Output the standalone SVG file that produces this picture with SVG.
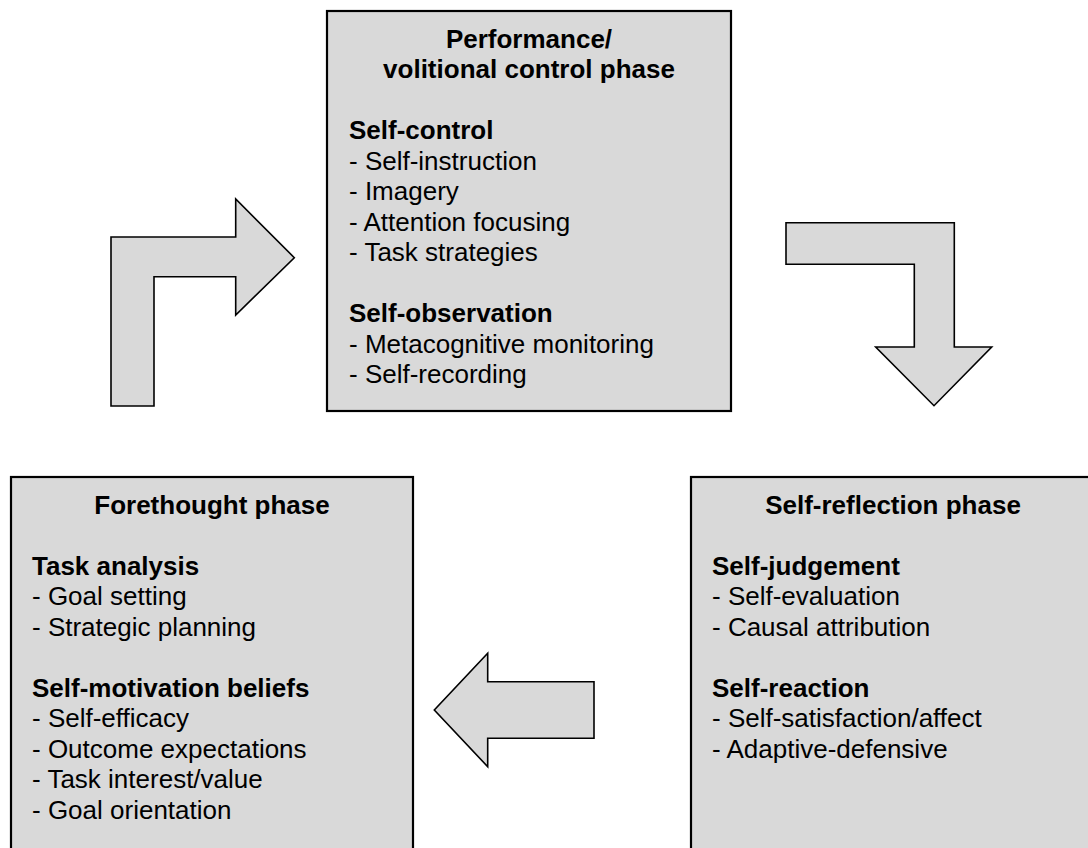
<svg xmlns="http://www.w3.org/2000/svg" width="1088" height="848" viewBox="0 0 1088 848">
<style>
.box{fill:#d9d9d9;stroke:#000;stroke-width:2.2}
.arrow{fill:#d9d9d9;stroke:#000;stroke-width:1.6;stroke-linejoin:miter}
text{font-family:"Liberation Sans",Arial,sans-serif;font-size:26px;fill:#000}
.b{font-weight:bold}
.c{text-anchor:middle}
</style>
<rect width="1088" height="848" fill="#fff"/>
<g id="connectors">
<polygon id="arrow-forethought-to-performance" class="arrow" points="111,406 111,237 235.7,237 235.7,199 294.3,257.7 235.7,315 235.7,276.7 154,276.7 154,406"/>
<polygon id="arrow-performance-to-reflection" class="arrow" points="786,222.7 954.3,222.7 954.3,347 991.7,347 934,405.7 875.7,347 914.3,347 914.3,264.3 786,264.3"/>
<polygon id="arrow-reflection-to-forethought" class="arrow" points="594,681.7 487.7,681.7 487.7,653.3 434.3,710 487.7,766.7 487.7,738.3 594,738.3"/>
</g>
<g id="performance">
<rect class="box" x="327" y="11" width="404" height="400"/>
<text class="b c" x="529" y="47.5">Performance/</text>
<text class="b c" x="529" y="78">volitional control phase</text>
<text class="b" x="349" y="139">Self-control</text>
<text x="349" y="169.5">- Self-instruction</text>
<text x="349" y="200">- Imagery</text>
<text x="349" y="230.5">- Attention focusing</text>
<text x="349" y="261">- Task strategies</text>
<text class="b" x="349" y="322">Self-observation</text>
<text x="349" y="352.5">- Metacognitive monitoring</text>
<text x="349" y="383">- Self-recording</text>
</g>
<g id="forethought">
<rect class="box" x="11" y="477" width="402" height="390"/>
<text class="b c" x="212" y="513.5">Forethought phase</text>
<text class="b" x="32" y="574.5">Task analysis</text>
<text x="32" y="605">- Goal setting</text>
<text x="32" y="635.5">- Strategic planning</text>
<text class="b" x="32" y="696.5">Self-motivation beliefs</text>
<text x="32" y="727">- Self-efficacy</text>
<text x="32" y="757.5">- Outcome expectations</text>
<text x="32" y="788">- Task interest/value</text>
<text x="32" y="818.5">- Goal orientation</text>
</g>
<g id="reflection">
<rect class="box" x="691" y="477" width="404" height="390"/>
<text class="b c" x="893" y="513.5">Self-reflection phase</text>
<text class="b" x="712" y="574.5">Self-judgement</text>
<text x="712" y="605">- Self-evaluation</text>
<text x="712" y="635.5">- Causal attribution</text>
<text class="b" x="712" y="696.5">Self-reaction</text>
<text x="712" y="727">- Self-satisfaction/affect</text>
<text x="712" y="757.5">- Adaptive-defensive</text>
</g>
</svg>
